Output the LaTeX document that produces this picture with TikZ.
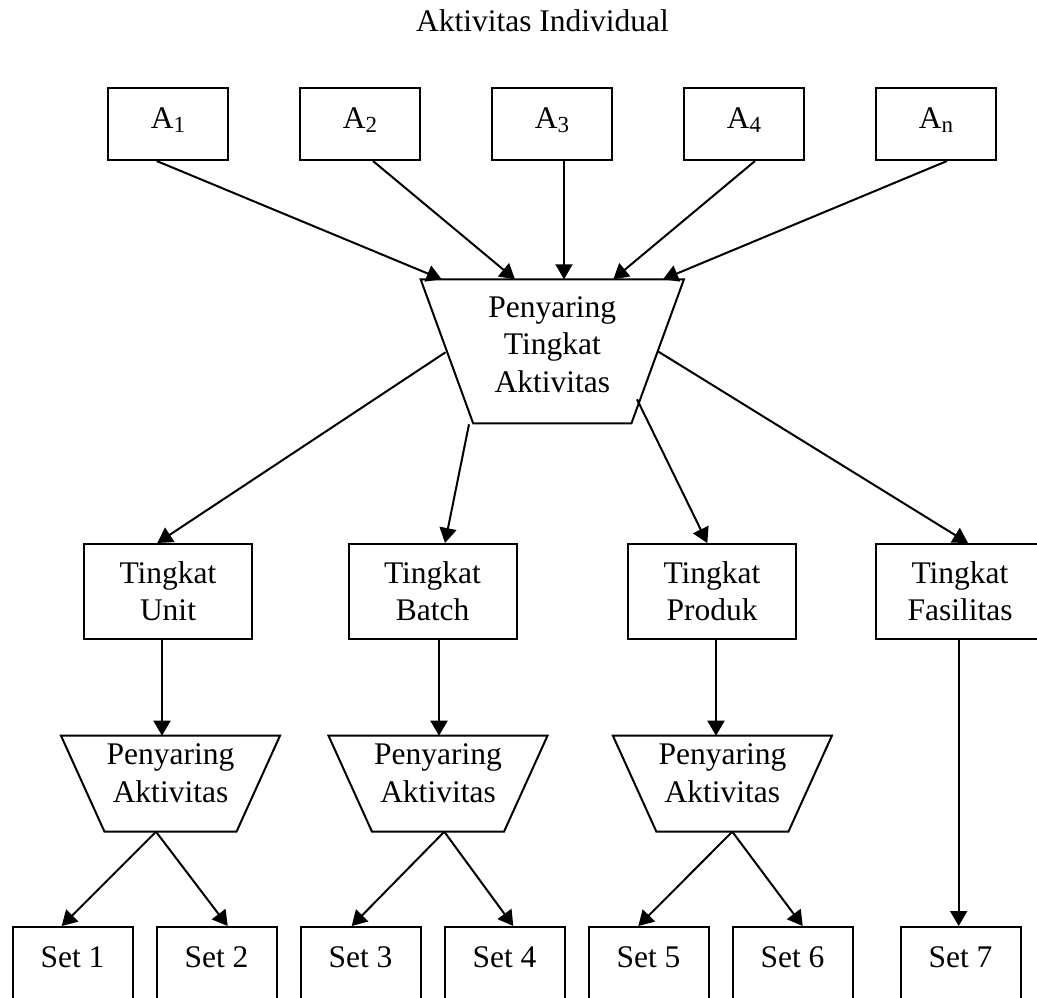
\documentclass[tikz,border=0pt]{standalone}
\usepackage{fontspec}
\setmainfont{Liberation Serif}
\usetikzlibrary{arrows.meta}
\newcommand{\sbs}[1]{\raisebox{-4pt}{\fontsize{23}{23}\selectfont #1}}
\begin{document}
\begin{tikzpicture}[x=1pt,y=-1pt,
  ln/.style={line width=2pt,line join=miter},
  arr/.style={line width=2pt,-{Triangle[width=17pt,length=15pt]}},
  every node/.style={font=\fontsize{31.5}{37.3}\selectfont},
  abox/.style={draw,line width=2pt,minimum width=120pt,minimum height=72pt,inner sep=0pt,text height=21pt,text depth=13pt},
  tbox/.style={draw,line width=2pt,minimum width=168pt,minimum height=95pt,inner sep=0pt,align=center},
  trap/.style={draw=none,inner sep=0pt,outer sep=0pt},
  txt/.style={inner sep=0pt,align=center}]
\useasboundingbox (0,0) rectangle (1037,997);
\clip (0,0) rectangle (1037,997);

% title
\node[anchor=base,inner sep=0pt] (title) at (542.5,31.7) {Aktivitas Individual};

% activity boxes
\node[abox] (a1) at (168,124) {A\sbs{1}};
\node[abox] (a2) at (360,124) {A\sbs{2}};
\node[abox] (a3) at (552,124) {A\sbs{3}};
\node[abox] (a4) at (744,124) {A\sbs{4}};
\node[abox] (an) at (936,124) {A\sbs{n}};

% main filter
\node[trap,minimum width=263.3pt,minimum height=144pt] (pt) at (552.3,351.3) {};
\draw[ln] (pt.north west) -- (pt.north east) -- ([xshift=-52.5pt]pt.south east) -- ([xshift=52.5pt]pt.south west) -- cycle;
\node[txt] (ptt) at ([yshift=6.75pt]pt.center) {Penyaring\\Tingkat\\Aktivitas};

% level boxes
\node[tbox] (tu) at (168,591.5) {Tingkat\\Unit};
\node[tbox] (tb) at (432.5,591.5) {Tingkat\\Batch};
\node[tbox] (tp) at (712,591.5) {Tingkat\\Produk};
\node[tbox] (tf) at (960,591.5) {Tingkat\\Fasilitas};

% small filters
\node[trap,minimum width=219pt,minimum height=96pt] (p1) at (170.5,783.7) {};
\node[trap,minimum width=219pt,minimum height=96pt] (p2) at (438,783.7) {};
\node[trap,minimum width=219pt,minimum height=96pt] (p3) at (722.4,783.7) {};
\foreach \p in {p1,p2,p3}{
  \draw[ln] (\p.north west) -- (\p.north east) -- ([xshift=-43.5pt]\p.south east) -- ([xshift=43.5pt]\p.south west) -- cycle;
}
\node[txt] (p1t) at ([yshift=10.6pt]p1.center) {Penyaring\\Aktivitas};
\node[txt] (p2t) at ([yshift=10.6pt]p2.center) {Penyaring\\Aktivitas};
\node[txt] (p3t) at ([yshift=10.6pt]p3.center) {Penyaring\\Aktivitas};

% sets
\node[abox] (s1) at (72.5,963) {Set 1};
\node[abox] (s2) at (216.5,963) {Set 2};
\node[abox] (s3) at (360.5,963) {Set 3};
\node[abox] (s4) at (504.5,963) {Set 4};
\node[abox] (s5) at (648.5,963) {Set 5};
\node[abox] (s6) at (792.5,963) {Set 6};
\node[abox] (s7) at (960.5,963) {Set 7};

% arrows into main filter
\draw[arr] ([xshift=-11.3pt]a1.south) -- ([xshift=-110.6pt]pt.north);
\draw[arr] ([xshift=13pt]a2.south) -- ([xshift=-37.3pt]pt.north);
\draw[arr] ([xshift=12pt]a3.south) -- ([xshift=11.7pt]pt.north);
\draw[arr] ([xshift=11pt]a4.south) -- ([xshift=61pt]pt.north);
\draw[arr] ([xshift=11pt]an.south) -- ([xshift=110.7pt]pt.north);

% arrows from main filter to levels
\draw[arr] ([xshift=-106.8pt,yshift=-1pt]pt.center) -- ([xshift=-10.7pt]tu.north);
\draw[arr] ([xshift=-83.3pt,yshift=-1pt]pt.south) -- ([xshift=12.5pt]tb.north);
\draw[arr] ([xshift=84.7pt,yshift=-48pt]pt.center) -- ([xshift=-4.7pt]tp.north);
\draw[arr] ([xshift=106.2pt,yshift=-0.4pt]pt.center) -- ([xshift=8pt]tf.north);

% levels to small filters / set 7
\draw[arr] ([xshift=-6pt]tu.south) -- ([xshift=-8.5pt]p1.north);
\draw[arr] ([xshift=6.5pt]tb.south) -- ([xshift=1pt]p2.north);
\draw[arr] ([xshift=4pt]tp.south) -- ([xshift=-6.4pt]p3.north);
\draw[arr] ([xshift=-1.3pt]tf.south) -- ([xshift=-1.8pt]s7.north);

% small filters to sets
\draw[arr] ([xshift=-14.5pt]p1.south) -- ([xshift=-10.8pt]s1.north);
\draw[arr] ([xshift=-14.5pt]p1.south) -- ([xshift=11.2pt]s2.north);
\draw[arr] ([xshift=6.3pt]p2.south) -- ([xshift=-8.8pt]s3.north);
\draw[arr] ([xshift=6.3pt]p2.south) -- ([xshift=8.8pt]s4.north);
\draw[arr] ([xshift=9.9pt]p3.south) -- ([xshift=-10.2pt]s5.north);
\draw[arr] ([xshift=9.9pt]p3.south) -- ([xshift=10.2pt]s6.north);
\end{tikzpicture}
\end{document}
